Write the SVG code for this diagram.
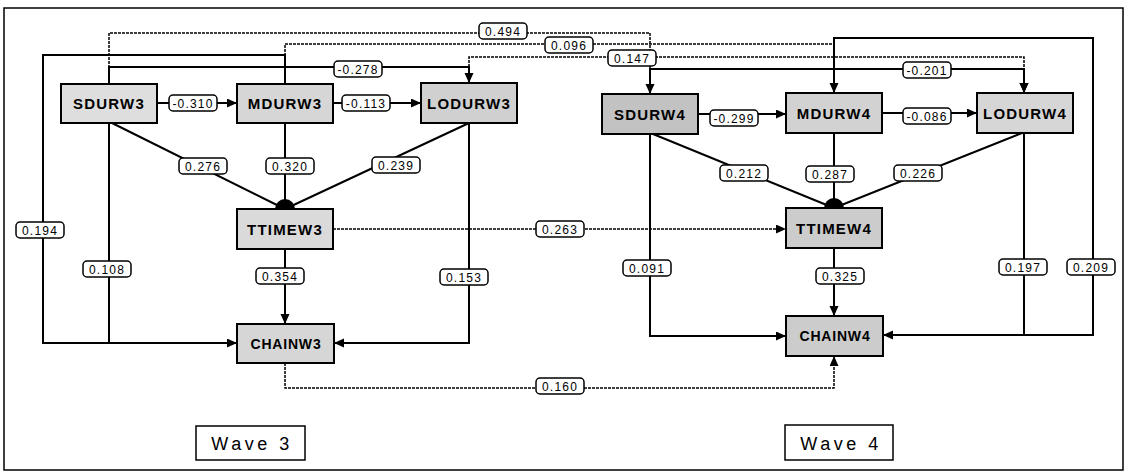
<svg xmlns="http://www.w3.org/2000/svg" width="1129" height="473" viewBox="0 0 1129 473">
<style>
.frame{fill:#fff;stroke:#000;stroke-width:1.5}
.node rect{stroke:#000;stroke-width:2}
.nt{font-family:"Liberation Sans",Arial,sans-serif;font-weight:bold;font-size:15px;letter-spacing:1.2px;text-anchor:middle;fill:#000}
.ct{font-size:14px;letter-spacing:0.8px}
.s{fill:none;stroke:#000;stroke-width:2}
.d{fill:none;stroke:#000;stroke-width:1.5;stroke-dasharray:3 1}
.lab rect{fill:#fff;stroke:#000;stroke-width:1.5}
.lt{font-family:"Liberation Sans",Arial,sans-serif;font-size:12px;letter-spacing:1.2px;text-anchor:middle;fill:#000}
.wave rect{fill:#fff;stroke:#000;stroke-width:1.5}
.wt{font-family:"Liberation Sans",Arial,sans-serif;font-size:18px;letter-spacing:3.5px;text-anchor:middle;fill:#000}
</style>
<defs>
<marker id="ah" markerUnits="userSpaceOnUse" markerWidth="11" markerHeight="10" refX="10" refY="4.5" orient="auto" viewBox="0 0 11 10">
<path d="M0,0 L10,4.5 L0,9 Z" fill="#000" stroke="none"/>
</marker>
</defs>
<rect class="frame" x="4" y="8" width="1119" height="462"/>
<g id="connectors">
<g id="edge-paths">
<path class="d" d="M109,84 V33 H650 V94" marker-end="url(#ah)"/>
<path class="d" d="M285,84 V44 H834 V93" marker-end="url(#ah)"/>
<path class="d" d="M469,83 V57 H1024 V93" marker-end="url(#ah)"/>
<path class="s" d="M109,84 V67 H469 V83" marker-end="url(#ah)"/>
<path class="s" d="M650,94 V69 H1024 V93" marker-end="url(#ah)"/>
<path class="s" d="M285,84 V55 H43 V343 H237" marker-end="url(#ah)"/>
<path class="s" d="M834,93 V38 H1093 V335 H883" marker-end="url(#ah)"/>
<path class="s" d="M109,123 V343"/>
<path class="s" d="M469,123 V343 H334" marker-end="url(#ah)"/>
<path class="s" d="M650,134 V336 H786" marker-end="url(#ah)"/>
<path class="s" d="M1024,133 V335"/>
<path class="d" d="M333,229 H786" marker-end="url(#ah)"/>
<path class="d" d="M285,363 V388 H834 V356" marker-end="url(#ah)"/>
<path class="s" d="M157,103 H237" marker-end="url(#ah)"/>
<path class="s" d="M333,103 H421" marker-end="url(#ah)"/>
<path class="s" d="M698,114 H786" marker-end="url(#ah)"/>
<path class="s" d="M882,113 H977" marker-end="url(#ah)"/>
<path class="s" d="M112,123 L285,209"/>
<path class="s" d="M285,123 V209"/>
<path class="s" d="M469,123 L285,209"/>
<path class="s" d="M653,134 L834,208"/>
<path class="s" d="M834,133 V208"/>
<path class="s" d="M1022,133 L834,208"/>
<path d="M275,209 A10,10 0 0 1 295,209 Z" fill="#000"/>
<path d="M824,208 A10,10 0 0 1 844,208 Z" fill="#000"/>
<path class="s" d="M285,249 V324" marker-end="url(#ah)"/>
<path class="s" d="M834,248 V316" marker-end="url(#ah)"/>
</g>
<g id="edge-labels">
<g class="lab"><rect x="479" y="23" width="48" height="16" rx="4"/><text class="lt" x="503" y="35.5">0.494</text></g>
<g class="lab"><rect x="545" y="37" width="48" height="16" rx="4"/><text class="lt" x="569" y="49.5">0.096</text></g>
<g class="lab"><rect x="608" y="50" width="48" height="16" rx="4"/><text class="lt" x="632" y="62.5">0.147</text></g>
<g class="lab"><rect x="334" y="61" width="48" height="16" rx="4"/><text class="lt" x="358" y="73.5">-0.278</text></g>
<g class="lab"><rect x="903" y="62" width="48" height="16" rx="4"/><text class="lt" x="927" y="74.5">-0.201</text></g>
<g class="lab"><rect x="169" y="95" width="48" height="16" rx="4"/><text class="lt" x="193" y="107.5">-0.310</text></g>
<g class="lab"><rect x="342" y="95" width="48" height="16" rx="4"/><text class="lt" x="366" y="107.5">-0.113</text></g>
<g class="lab"><rect x="710" y="110" width="48" height="16" rx="4"/><text class="lt" x="734" y="122.5">-0.299</text></g>
<g class="lab"><rect x="903" y="108" width="48" height="16" rx="4"/><text class="lt" x="927" y="120.5">-0.086</text></g>
<g class="lab"><rect x="179" y="158" width="48" height="16" rx="4"/><text class="lt" x="203" y="170.5">0.276</text></g>
<g class="lab"><rect x="266" y="158" width="48" height="16" rx="4"/><text class="lt" x="290" y="170.5">0.320</text></g>
<g class="lab"><rect x="372" y="157" width="48" height="16" rx="4"/><text class="lt" x="396" y="169.5">0.239</text></g>
<g class="lab"><rect x="720" y="165" width="48" height="16" rx="4"/><text class="lt" x="744" y="177.5">0.212</text></g>
<g class="lab"><rect x="806" y="166" width="48" height="16" rx="4"/><text class="lt" x="830" y="178.5">0.287</text></g>
<g class="lab"><rect x="894" y="165" width="48" height="16" rx="4"/><text class="lt" x="918" y="177.5">0.226</text></g>
<g class="lab"><rect x="536" y="221" width="48" height="16" rx="4"/><text class="lt" x="560" y="233.5">0.263</text></g>
<g class="lab"><rect x="16" y="222" width="48" height="16" rx="4"/><text class="lt" x="40" y="234.5">0.194</text></g>
<g class="lab"><rect x="83" y="261" width="48" height="16" rx="4"/><text class="lt" x="107" y="273.5">0.108</text></g>
<g class="lab"><rect x="256" y="268" width="48" height="16" rx="4"/><text class="lt" x="280" y="280.5">0.354</text></g>
<g class="lab"><rect x="440" y="269" width="48" height="16" rx="4"/><text class="lt" x="464" y="281.5">0.153</text></g>
<g class="lab"><rect x="623" y="260" width="48" height="16" rx="4"/><text class="lt" x="647" y="272.5">0.091</text></g>
<g class="lab"><rect x="816" y="268" width="48" height="16" rx="4"/><text class="lt" x="840" y="280.5">0.325</text></g>
<g class="lab"><rect x="999" y="259" width="48" height="16" rx="4"/><text class="lt" x="1023" y="271.5">0.197</text></g>
<g class="lab"><rect x="1067" y="259" width="48" height="16" rx="4"/><text class="lt" x="1091" y="271.5">0.209</text></g>
<g class="lab"><rect x="536" y="378" width="48" height="16" rx="4"/><text class="lt" x="560" y="390.5">0.160</text></g>
</g>
</g>
<g id="SDURW3" class="node"><rect x="61" y="84" width="96" height="39" fill="#dedede"/><text class="nt" x="109" y="109">SDURW3</text></g>
<g id="MDURW3" class="node"><rect x="237" y="84" width="96" height="39" fill="#d6d6d6"/><text class="nt" x="285" y="109">MDURW3</text></g>
<g id="LODURW3" class="node"><rect x="421" y="83" width="96" height="40" fill="#d0d0d0"/><text class="nt" x="469" y="108.5">LODURW3</text></g>
<g id="SDURW4" class="node"><rect x="602" y="94" width="96" height="40" fill="#c2c2c2"/><text class="nt" x="650" y="119.5">SDURW4</text></g>
<g id="MDURW4" class="node"><rect x="786" y="93" width="96" height="40" fill="#d2d2d2"/><text class="nt" x="834" y="118.5">MDURW4</text></g>
<g id="LODURW4" class="node"><rect x="977" y="93" width="96" height="40" fill="#d6d6d6"/><text class="nt" x="1025" y="118.5">LODURW4</text></g>
<g id="TTIMEW3" class="node"><rect x="237" y="209" width="96" height="40" fill="#dadada"/><text class="nt" x="285" y="234.5">TTIMEW3</text></g>
<g id="TTIMEW4" class="node"><rect x="786" y="208" width="96" height="40" fill="#cccccc"/><text class="nt" x="834" y="233.5">TTIMEW4</text></g>
<g id="CHAINW3" class="node"><rect x="237" y="324" width="97" height="39" fill="#d6d6d6"/><text class="nt ct" x="286" y="348.5">CHAINW3</text></g>
<g id="CHAINW4" class="node"><rect x="786" y="316" width="97" height="40" fill="#cccccc"/><text class="nt ct" x="835" y="341">CHAINW4</text></g>
<g id="wave3" class="wave"><rect x="196" y="426" width="109" height="34"/><text class="wt" x="252" y="450">Wave 3</text></g>
<g id="wave4" class="wave"><rect x="785" y="425" width="108" height="35"/><text class="wt" x="841" y="449.5">Wave 4</text></g>
</svg>
